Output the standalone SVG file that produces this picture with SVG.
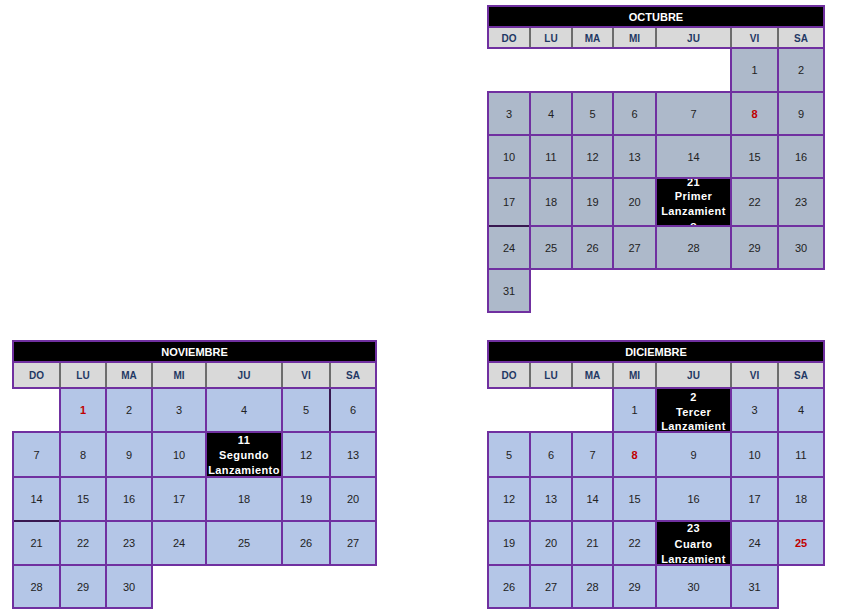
<svg xmlns="http://www.w3.org/2000/svg" width="841" height="616" viewBox="0 0 841 616">
<style>
.bg{fill:#ffffff}
.t{fill:#000000;stroke:#7030A0;stroke-width:2}
.h{fill:#D9D9D9;stroke:#7030A0;stroke-width:2}
.hs{stroke:#000000;stroke-width:1}
.o{fill:#ADB9CA;stroke:#7030A0;stroke-width:2}
.b{fill:#B4C6E7;stroke:#7030A0;stroke-width:2}
.k{fill:#000000;stroke:#7030A0;stroke-width:2}
.thin{stroke:#000000;stroke-width:1}
text{font-family:"Liberation Sans",Arial,sans-serif;text-anchor:middle;dominant-baseline:central}
.tt{fill:#ffffff;font-weight:bold;font-size:11px}
.hd{fill:#1F3864;font-weight:bold;font-size:10px}
.n{fill:#222222;font-size:11px}
.r{fill:#C00000;font-weight:bold;font-size:11px}
.w{fill:#ffffff;font-weight:bold;font-size:11px;letter-spacing:0.4px}
</style>
<defs>
<clipPath id="c21"><rect x="657" y="179" width="73" height="46"/></clipPath>
<clipPath id="c11"><rect x="207" y="433" width="74" height="43"/></clipPath>
<clipPath id="c2"><rect x="657" y="389" width="73" height="42"/></clipPath>
<clipPath id="c23"><rect x="657" y="522" width="73" height="42"/></clipPath>
</defs>
<rect class="bg" x="0" y="0" width="841" height="616"/>

<g id="octubre">
<rect class="t" x="488" y="6" width="336" height="21"/>
<text class="tt" x="656" y="16.5">OCTUBRE</text>
<rect class="h" x="488" y="27" width="336" height="21"/>
<line class="hs" x1="530" y1="28" x2="530" y2="47"/><line class="hs" x1="572" y1="28" x2="572" y2="47"/><line class="hs" x1="613" y1="28" x2="613" y2="47"/><line class="hs" x1="656" y1="28" x2="656" y2="47"/><line class="hs" x1="731" y1="28" x2="731" y2="47"/><line class="hs" x1="778" y1="28" x2="778" y2="47"/>
<text class="hd" x="509" y="38">DO</text><text class="hd" x="551" y="38">LU</text><text class="hd" x="592.5" y="38">MA</text><text class="hd" x="634.5" y="38">MI</text><text class="hd" x="693.5" y="38">JU</text><text class="hd" x="754.5" y="38">VI</text><text class="hd" x="801" y="38">SA</text>
<!-- row1 -->
<rect class="o" x="731" y="48" width="47" height="44"/><rect class="o" x="778" y="48" width="46" height="44"/>
<text class="n" x="754.5" y="70">1</text><text class="n" x="801" y="70">2</text>
<!-- row2 -->
<rect class="o" x="488" y="92" width="42" height="43"/><rect class="o" x="530" y="92" width="42" height="43"/><rect class="o" x="572" y="92" width="41" height="43"/><rect class="o" x="613" y="92" width="43" height="43"/><rect class="o" x="656" y="92" width="75" height="43"/><rect class="o" x="731" y="92" width="47" height="43"/><rect class="o" x="778" y="92" width="46" height="43"/>
<text class="n" x="509" y="113.5">3</text><text class="n" x="551" y="113.5">4</text><text class="n" x="592.5" y="113.5">5</text><text class="n" x="634.5" y="113.5">6</text><text class="n" x="693.5" y="113.5">7</text><text class="r" x="754.5" y="113.5">8</text><text class="n" x="801" y="113.5">9</text>
<!-- row3 -->
<rect class="o" x="488" y="135" width="42" height="43"/><rect class="o" x="530" y="135" width="42" height="43"/><rect class="o" x="572" y="135" width="41" height="43"/><rect class="o" x="613" y="135" width="43" height="43"/><rect class="o" x="656" y="135" width="75" height="43"/><rect class="o" x="731" y="135" width="47" height="43"/><rect class="o" x="778" y="135" width="46" height="43"/>
<text class="n" x="509" y="156.5">10</text><text class="n" x="551" y="156.5">11</text><text class="n" x="592.5" y="156.5">12</text><text class="n" x="634.5" y="156.5">13</text><text class="n" x="693.5" y="156.5">14</text><text class="n" x="754.5" y="156.5">15</text><text class="n" x="801" y="156.5">16</text>
<!-- row4 -->
<rect class="o" x="488" y="178" width="42" height="48"/><rect class="o" x="530" y="178" width="42" height="48"/><rect class="o" x="572" y="178" width="41" height="48"/><rect class="o" x="613" y="178" width="43" height="48"/><rect class="o" x="731" y="178" width="47" height="48"/><rect class="o" x="778" y="178" width="46" height="48"/>
<text class="n" x="509" y="202">17</text><text class="n" x="551" y="202">18</text><text class="n" x="592.5" y="202">19</text><text class="n" x="634.5" y="202">20</text><text class="n" x="754.5" y="202">22</text><text class="n" x="801" y="202">23</text>
<!-- row5 -->
<rect class="o" x="488" y="226" width="42" height="43"/><rect class="o" x="530" y="226" width="42" height="43"/><rect class="o" x="572" y="226" width="41" height="43"/><rect class="o" x="613" y="226" width="43" height="43"/><rect class="o" x="656" y="226" width="75" height="43"/><rect class="o" x="731" y="226" width="47" height="43"/><rect class="o" x="778" y="226" width="46" height="43"/>
<text class="n" x="509" y="247.5">24</text><text class="n" x="551" y="247.5">25</text><text class="n" x="592.5" y="247.5">26</text><text class="n" x="634.5" y="247.5">27</text><text class="n" x="693.5" y="247.5">28</text><text class="n" x="754.5" y="247.5">29</text><text class="n" x="801" y="247.5">30</text>
<!-- row6 -->
<rect class="o" x="488" y="269" width="42" height="43"/>
<text class="n" x="509" y="290.5">31</text>
<line class="thin" x1="489" y1="226" x2="529" y2="226"/>
</g>

<g id="oct-21">
<rect class="k" x="656" y="178" width="75" height="48"/>
<g clip-path="url(#c21)">
<text class="w" x="693.5" y="181.5">21</text>
<text class="w" x="693.5" y="196">Primer</text>
<text class="w" x="693.5" y="210.5">Lanzamient</text>
<text class="w" x="693.5" y="225">o</text>
</g>
</g>

<g id="noviembre">
<rect class="t" x="13" y="341" width="363" height="21"/>
<text class="tt" x="194.5" y="352">NOVIEMBRE</text>
<rect class="h" x="13" y="362" width="363" height="26"/>
<line class="hs" x1="60" y1="363" x2="60" y2="387"/><line class="hs" x1="106" y1="363" x2="106" y2="387"/><line class="hs" x1="152" y1="363" x2="152" y2="387"/><line class="hs" x1="206" y1="363" x2="206" y2="387"/><line class="hs" x1="282" y1="363" x2="282" y2="387"/><line class="hs" x1="330" y1="363" x2="330" y2="387"/>
<text class="hd" x="36.5" y="375.5">DO</text><text class="hd" x="83" y="375.5">LU</text><text class="hd" x="129" y="375.5">MA</text><text class="hd" x="179" y="375.5">MI</text><text class="hd" x="244" y="375.5">JU</text><text class="hd" x="306" y="375.5">VI</text><text class="hd" x="353" y="375.5">SA</text>
<!-- row1 -->
<rect class="b" x="60" y="388" width="46" height="44"/><rect class="b" x="106" y="388" width="46" height="44"/><rect class="b" x="152" y="388" width="54" height="44"/><rect class="b" x="206" y="388" width="76" height="44"/><rect class="b" x="282" y="388" width="48" height="44"/><rect class="b" x="330" y="388" width="46" height="44"/>
<text class="r" x="83" y="410">1</text><text class="n" x="129" y="410">2</text><text class="n" x="179" y="410">3</text><text class="n" x="244" y="410">4</text><text class="n" x="306" y="410">5</text><text class="n" x="353" y="410">6</text>
<line class="thin" x1="330" y1="389" x2="330" y2="431"/>
<!-- row2 -->
<rect class="b" x="13" y="432" width="47" height="45"/><rect class="b" x="60" y="432" width="46" height="45"/><rect class="b" x="106" y="432" width="46" height="45"/><rect class="b" x="152" y="432" width="54" height="45"/><rect class="b" x="282" y="432" width="48" height="45"/><rect class="b" x="330" y="432" width="46" height="45"/>
<text class="n" x="36.5" y="454.5">7</text><text class="n" x="83" y="454.5">8</text><text class="n" x="129" y="454.5">9</text><text class="n" x="179" y="454.5">10</text><text class="n" x="306" y="454.5">12</text><text class="n" x="353" y="454.5">13</text>
<!-- row3 -->
<rect class="b" x="13" y="477" width="47" height="44"/><rect class="b" x="60" y="477" width="46" height="44"/><rect class="b" x="106" y="477" width="46" height="44"/><rect class="b" x="152" y="477" width="54" height="44"/><rect class="b" x="206" y="477" width="76" height="44"/><rect class="b" x="282" y="477" width="48" height="44"/><rect class="b" x="330" y="477" width="46" height="44"/>
<text class="n" x="36.5" y="499">14</text><text class="n" x="83" y="499">15</text><text class="n" x="129" y="499">16</text><text class="n" x="179" y="499">17</text><text class="n" x="244" y="499">18</text><text class="n" x="306" y="499">19</text><text class="n" x="353" y="499">20</text>
<!-- row4 -->
<rect class="b" x="13" y="521" width="47" height="44"/><rect class="b" x="60" y="521" width="46" height="44"/><rect class="b" x="106" y="521" width="46" height="44"/><rect class="b" x="152" y="521" width="54" height="44"/><rect class="b" x="206" y="521" width="76" height="44"/><rect class="b" x="282" y="521" width="48" height="44"/><rect class="b" x="330" y="521" width="46" height="44"/>
<text class="n" x="36.5" y="543">21</text><text class="n" x="83" y="543">22</text><text class="n" x="129" y="543">23</text><text class="n" x="179" y="543">24</text><text class="n" x="244" y="543">25</text><text class="n" x="306" y="543">26</text><text class="n" x="353" y="543">27</text>
<line class="thin" x1="14" y1="521" x2="59" y2="521"/>
<!-- row5 -->
<rect class="b" x="13" y="565" width="47" height="43"/><rect class="b" x="60" y="565" width="46" height="43"/><rect class="b" x="106" y="565" width="46" height="43"/>
<text class="n" x="36.5" y="586.5">28</text><text class="n" x="83" y="586.5">29</text><text class="n" x="129" y="586.5">30</text>
</g>

<g id="nov-11">
<rect class="k" x="206" y="432" width="76" height="45"/>
<g clip-path="url(#c11)">
<text class="w" x="244" y="440">11</text>
<text class="w" x="244" y="455">Segundo</text>
<text class="w" x="244" y="470">Lanzamiento</text>
</g>
</g>

<g id="diciembre">
<rect class="t" x="488" y="341" width="336" height="21"/>
<text class="tt" x="656" y="352">DICIEMBRE</text>
<rect class="h" x="488" y="362" width="336" height="26"/>
<line class="hs" x1="530" y1="363" x2="530" y2="387"/><line class="hs" x1="572" y1="363" x2="572" y2="387"/><line class="hs" x1="613" y1="363" x2="613" y2="387"/><line class="hs" x1="656" y1="363" x2="656" y2="387"/><line class="hs" x1="731" y1="363" x2="731" y2="387"/><line class="hs" x1="778" y1="363" x2="778" y2="387"/>
<text class="hd" x="509" y="375.5">DO</text><text class="hd" x="551" y="375.5">LU</text><text class="hd" x="592.5" y="375.5">MA</text><text class="hd" x="634.5" y="375.5">MI</text><text class="hd" x="693.5" y="375.5">JU</text><text class="hd" x="754.5" y="375.5">VI</text><text class="hd" x="801" y="375.5">SA</text>
<!-- row1 -->
<rect class="b" x="613" y="388" width="43" height="44"/><rect class="b" x="731" y="388" width="47" height="44"/><rect class="b" x="778" y="388" width="46" height="44"/>
<text class="n" x="634.5" y="410">1</text><text class="n" x="754.5" y="410">3</text><text class="n" x="801" y="410">4</text>
<!-- row2 -->
<rect class="b" x="488" y="432" width="42" height="45"/><rect class="b" x="530" y="432" width="42" height="45"/><rect class="b" x="572" y="432" width="41" height="45"/><rect class="b" x="613" y="432" width="43" height="45"/><rect class="b" x="656" y="432" width="75" height="45"/><rect class="b" x="731" y="432" width="47" height="45"/><rect class="b" x="778" y="432" width="46" height="45"/>
<text class="n" x="509" y="454.5">5</text><text class="n" x="551" y="454.5">6</text><text class="n" x="592.5" y="454.5">7</text><text class="r" x="634.5" y="454.5">8</text><text class="n" x="693.5" y="454.5">9</text><text class="n" x="754.5" y="454.5">10</text><text class="n" x="801" y="454.5">11</text>
<!-- row3 -->
<rect class="b" x="488" y="477" width="42" height="44"/><rect class="b" x="530" y="477" width="42" height="44"/><rect class="b" x="572" y="477" width="41" height="44"/><rect class="b" x="613" y="477" width="43" height="44"/><rect class="b" x="656" y="477" width="75" height="44"/><rect class="b" x="731" y="477" width="47" height="44"/><rect class="b" x="778" y="477" width="46" height="44"/>
<text class="n" x="509" y="499">12</text><text class="n" x="551" y="499">13</text><text class="n" x="592.5" y="499">14</text><text class="n" x="634.5" y="499">15</text><text class="n" x="693.5" y="499">16</text><text class="n" x="754.5" y="499">17</text><text class="n" x="801" y="499">18</text>
<!-- row4 -->
<rect class="b" x="488" y="521" width="42" height="44"/><rect class="b" x="530" y="521" width="42" height="44"/><rect class="b" x="572" y="521" width="41" height="44"/><rect class="b" x="613" y="521" width="43" height="44"/><rect class="b" x="731" y="521" width="47" height="44"/><rect class="b" x="778" y="521" width="46" height="44"/>
<text class="n" x="509" y="543">19</text><text class="n" x="551" y="543">20</text><text class="n" x="592.5" y="543">21</text><text class="n" x="634.5" y="543">22</text><text class="n" x="754.5" y="543">24</text><text class="r" x="801" y="543">25</text>
<!-- row5 -->
<rect class="b" x="488" y="565" width="42" height="43"/><rect class="b" x="530" y="565" width="42" height="43"/><rect class="b" x="572" y="565" width="41" height="43"/><rect class="b" x="613" y="565" width="43" height="43"/><rect class="b" x="656" y="565" width="75" height="43"/><rect class="b" x="731" y="565" width="47" height="43"/>
<text class="n" x="509" y="586.5">26</text><text class="n" x="551" y="586.5">27</text><text class="n" x="592.5" y="586.5">28</text><text class="n" x="634.5" y="586.5">29</text><text class="n" x="693.5" y="586.5">30</text><text class="n" x="754.5" y="586.5">31</text>
</g>

<g id="dic-2">
<rect class="k" x="656" y="388" width="75" height="44"/>
<g clip-path="url(#c2)">
<text class="w" x="693.5" y="396.5">2</text>
<text class="w" x="693.5" y="411.5">Tercer</text>
<text class="w" x="693.5" y="426">Lanzamient</text>
</g>
</g>

<g id="dic-23">
<rect class="k" x="656" y="521" width="75" height="44"/>
<g clip-path="url(#c23)">
<text class="w" x="693.5" y="528">23</text>
<text class="w" x="693.5" y="544">Cuarto</text>
<text class="w" x="693.5" y="559">Lanzamient</text>
</g>
</g>

<g id="connectors"></g>
</svg>
